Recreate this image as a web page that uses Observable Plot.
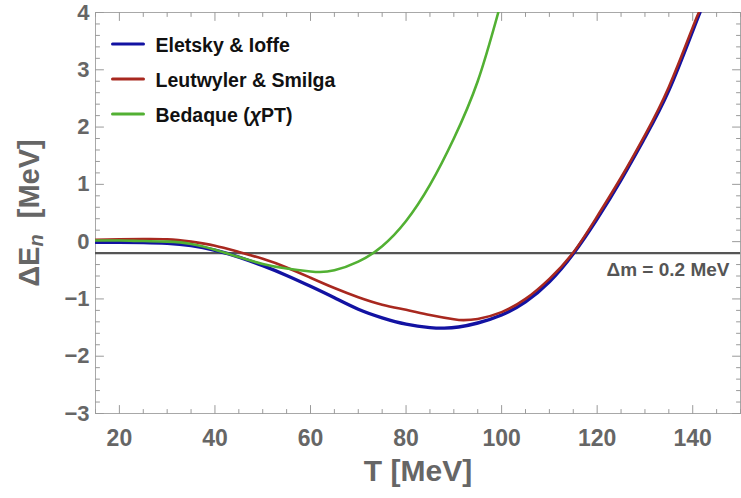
<!DOCTYPE html>
<html>
<head>
<meta charset="utf-8">
<script src="https://cdn.jsdelivr.net/npm/d3@7"></script>
<script src="https://cdn.jsdelivr.net/npm/@observablehq/plot@0.6"></script>
<style>
  body { margin: 0; background: #fff; }
  #chart svg { display: block; }
</style>
</head>
<body>
<div id="chart"></div>
<script>
// ---- data ----
const seriesNames = ["Eletsky & Ioffe", "Leutwyler & Smilga", "Bedaque (\u03C7PT)"];
const seriesColors = ["#1212a2", "#a8281f", "#52b033"];

const T_eletsky = [15,20,25,30,35,40,45,50,55,60,65,70,75,80,85,88,91,95,100,105,110,115,120,125,130,135,140,141.5];
const E_eletsky = [-0.01,-0.01,-0.015,-0.03,-0.07,-0.15,-0.27,-0.42,-0.59,-0.78,-0.98,-1.18,-1.33,-1.44,-1.50,-1.51,-1.49,-1.42,-1.28,-1.05,-0.70,-0.21,0.40,1.08,1.82,2.64,3.68,4.0];

const T_leutwyler = [15,20,25,30,35,40,45,50,55,60,65,70,75,80,85,90,92,95,100,105,110,115,120,125,130,135,140,141.3];
const E_leutwyler = [0.03,0.04,0.045,0.04,0.0,-0.07,-0.18,-0.30,-0.45,-0.63,-0.81,-0.97,-1.10,-1.19,-1.28,-1.355,-1.37,-1.35,-1.23,-1.00,-0.65,-0.19,0.44,1.12,1.86,2.70,3.74,4.0];

const T_bedaque = [15,20,25,30,35,40,45,50,55,60,62,65,70,75,80,85,90,95,99.3];
const E_bedaque = [0.02,0.02,0.01,0.0,-0.04,-0.14,-0.27,-0.39,-0.47,-0.52,-0.53,-0.50,-0.35,-0.08,0.36,0.99,1.80,2.80,4.0];

const deltaM = 0.2;
const xDomain = [15, 150];
const yDomain = [-3, 4];
const xMajorTicks = [20, 40, 60, 80, 100, 120, 140];
const xMinorTicks = [15,25,30,35,45,50,55,65,70,75,85,90,95,105,110,115,125,130,135,145,150];
const yMajorTicks = [-3, -2, -1, 0, 1, 2, 3, 4];
const yMinorTicks = d3.range(-3, 4.001, 0.2).map(v => +v.toFixed(1)).filter(v => !Number.isInteger(v));

// ---- build table ----
const Ts = [T_eletsky, T_leutwyler, T_bedaque];
const Es = [E_eletsky, E_leutwyler, E_bedaque];
const rows = [];
seriesNames.forEach((name, k) => {
  Ts[k].forEach((t, i) => rows.push({series: name, T: t, E: Es[k][i]}));
});

const font = "'Liberation Sans', Arial, Helvetica, sans-serif";
const tickColor = "#9a9a9a";
const labelColor = "#666666";
const widths = [3.4, 2.6, 2.6];
const fmt = d => (d < 0 ? "\u2212" + (-d) : String(d));

const hLine = { draw(c, l) { c.moveTo(0, 0); c.lineTo(l, 0); } };
const vLine = { draw(c, l) { c.moveTo(0, 0); c.lineTo(0, -l); } };

function ticks(values, channel, frameAnchor, rotate, len) {
  return Plot.vector(values, {
    [channel]: d => d, frameAnchor, rotate, length: len, anchor: "start",
    shape: vLine, stroke: tickColor, strokeWidth: 1
  });
}

const marks = [
  Plot.frame({stroke: "#a8a8a8", strokeWidth: 1}),
  // inward frame ticks (all four sides)
  ticks(xMajorTicks, "x", "bottom", 0, 8),
  ticks(xMinorTicks, "x", "bottom", 0, 4),
  ticks(xMajorTicks, "x", "top", 180, 8),
  ticks(xMinorTicks, "x", "top", 180, 4),
  ticks(yMajorTicks, "y", "left", 90, 8),
  ticks(yMinorTicks, "y", "left", 90, 4),
  ticks(yMajorTicks, "y", "right", -90, 8),
  ticks(yMinorTicks, "y", "right", -90, 4),
  // tick labels
  Plot.axisX(xMajorTicks, {anchor: "bottom", tickSize: 0, tickPadding: 16, label: null, tickFormat: fmt,
    fill: labelColor, fontSize: 23, fontWeight: "bold", fontFamily: font}),
  Plot.axisY(yMajorTicks, {anchor: "left", tickSize: 0, tickPadding: 6, label: null, tickFormat: fmt,
    fill: labelColor, fontSize: 22, fontWeight: "bold", fontFamily: font}),
  // reference line
  Plot.ruleY([-deltaM], {stroke: "#555555", strokeWidth: 2.2}),
  Plot.text([{T: xDomain[1], E: -deltaM}], {
    x: "T", y: "E", text: () => `\u0394m = ${deltaM} MeV`,
    textAnchor: "end", dx: -11, dy: 17, fill: "#555555",
    fontSize: 19, fontWeight: "bold", fontFamily: font
  }),
  // curves
  ...seriesNames.map((name, k) =>
    Plot.line(rows.filter(r => r.series === name), {
      x: "T", y: "E", stroke: seriesColors[k], strokeWidth: widths[k],
      curve: "natural", clip: true
    })
  ),
  // legend
  ...seriesNames.map((name, k) =>
    Plot.vector([name], {
      frameAnchor: "top-left", dx: 17, dy: 31.5 + 35 * k, length: 31, anchor: "start",
      shape: hLine, stroke: seriesColors[k], strokeWidth: 3
    })
  ),
  ...seriesNames.map((name, k) =>
    Plot.text([name], {
      frameAnchor: "top-left", dx: 60, dy: 33 + 35 * k, text: d => d,
      textAnchor: "start", lineAnchor: "middle", fill: "#111",
      fontSize: 19.5, fontWeight: "bold", fontFamily: font
    })
  ),
  // x axis title
  Plot.text(["T [MeV]"], {
    frameAnchor: "bottom", dy: 58, text: d => d, lineAnchor: "middle",
    fill: labelColor, fontSize: 30, fontWeight: "bold", fontFamily: font
  })
];

const svg = Plot.plot({
  width: 741,
  height: 498,
  marginLeft: 95,
  marginRight: 1,
  marginTop: 12,
  marginBottom: 85,
  x: {domain: xDomain, axis: null},
  y: {domain: yDomain, axis: null},
  style: {fontFamily: font, background: "#fff"},
  marks
});

// italic chi in the legend entry
d3.select(svg).selectAll("text").each(function () {
  const s = this.textContent;
  const i = s.indexOf("\u03C7");
  if (i >= 0 && this.childElementCount === 0) {
    const el = d3.select(this);
    el.text(null);
    el.append("tspan").text(s.slice(0, i));
    el.append("tspan").attr("font-style", "italic").text("\u03C7");
    el.append("tspan").text(s.slice(i + 1));
  }
});

// y axis title with subscript
const t = d3.select(svg).append("text")
  .attr("transform", "translate(31,213) rotate(-90)")
  .attr("text-anchor", "middle")
  .attr("dominant-baseline", "middle")
  .attr("fill", labelColor)
  .attr("font-family", font)
  .attr("font-weight", "bold")
  .attr("font-size", 29);
t.append("tspan").text("\u0394E");
t.append("tspan").attr("font-style", "italic").attr("font-size", 20).attr("dy", 7).text("n");
t.append("tspan").attr("dy", -7).text("  [MeV]");

document.getElementById("chart").appendChild(svg);
</script>
</body>
</html>
